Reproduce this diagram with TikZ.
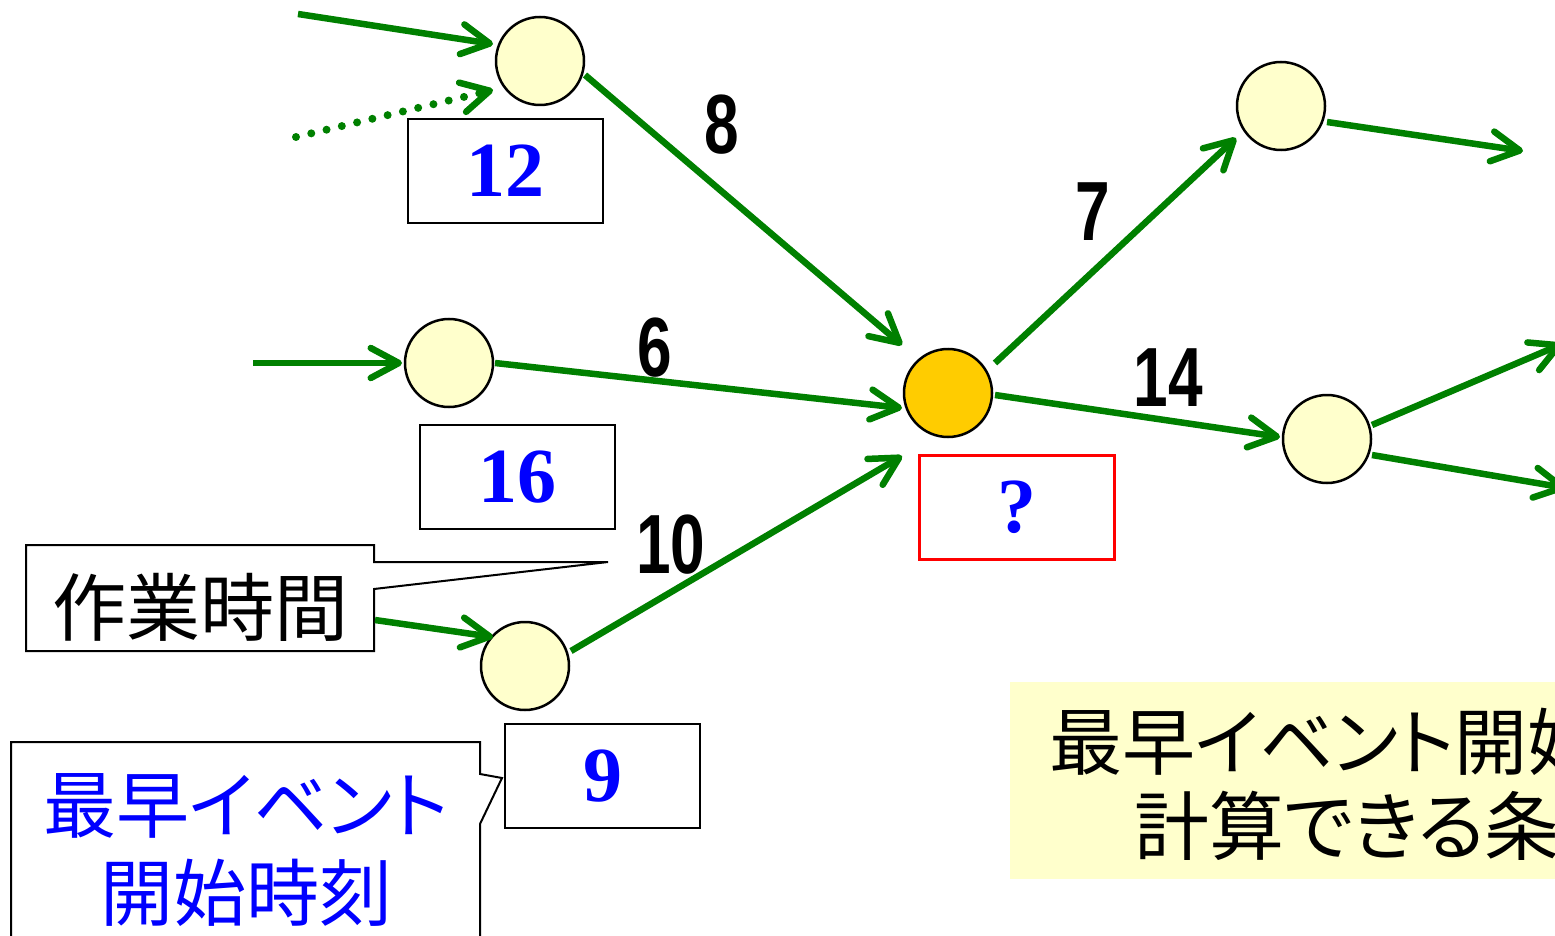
\documentclass[tikz,border=0pt]{standalone}
\usepackage{graphicx}
\usepackage{fontspec}
\setmainfont{Liberation Serif}
\newfontfamily\lsans{Liberation Sans}
\newfontfamily\cjk{Noto Sans CJK JP}
\newfontfamily\cjkp[RawFeature=+palt]{Noto Sans CJK JP}
\usetikzlibrary{arrows.meta,calc}
\definecolor{evgreen}{RGB}{0,128,0}
\definecolor{evyellow}{RGB}{255,255,204}
\definecolor{evorange}{RGB}{255,204,0}
\newcommand{\durtxt}[1]{\scalebox{0.74}[1]{#1}}
\begin{document}
\begin{tikzpicture}[x=1pt,y=-1pt,
  ev/.style={circle,draw=black,line width=2.5pt,fill=evyellow,minimum size=88pt,inner sep=0pt},
  arr/.style={draw=evgreen,line width=6.5pt,-{Straight Barb[length=28pt,width=30pt,round]}},
  dotarr/.style={draw=evgreen,line width=8pt,line cap=round,dash pattern=on 0pt off 15.7pt,
     -{Straight Barb[length=28pt,width=30pt,round,line width=6.5pt]}},
  valbox/.style={draw=black,line width=2.5pt,fill=white,minimum width=195pt,minimum height=104pt,
     inner sep=0pt,font=\fontsize{78}{78}\selectfont\bfseries,text=blue},
  dur/.style={inner sep=0pt,font=\lsans\fontsize{84}{84}\selectfont\bfseries},
  callout/.style={draw=black,line width=2pt,fill=white},
  cjktext/.style={inner sep=0pt,font=\cjkp\fontsize{#1}{#1}\selectfont},
]
\useasboundingbox (0,0) rectangle (1555,936);
\clip (0,0) rectangle (1555,936);

% condition box (bottom right)
\node[fill=evyellow,minimum width=560pt,minimum height=197pt,inner sep=0pt,anchor=north west] (cond) at (1010,682) {};
\node[cjktext=73,anchor=west] (cond1) at (1049,742) {最早イベント開始};
\node[cjktext=75,anchor=west] (cond2) at (1134,826) {計算できる条件};

% callouts
\coordinate (wtip) at (608,562);
\draw[callout] (26,545) -- (374,545) -- (374,562) -- (wtip) -- (374,589) -- (374,651) -- (26,651) -- cycle;
\node[cjktext=74] (wt) at (200,607) {作業時間};

\coordinate (etip) at (502,778);
\draw[callout] (11,960) -- (11,742) -- (480,742) -- (480,774) -- (etip) -- (480,824) -- (480,960);
\node[text=blue,align=center,inner sep=0pt,font=\cjkp\fontsize{73}{88}\selectfont] (et) at (246,850) {最早イベント\\開始時刻};

% events
\node[ev] (A) at (540,61) {};
\node[ev] (B) at (449,363) {};
\node[ev] (C) at (525,666) {};
\node[ev,fill=evorange] (D) at (948,393) {};
\node[ev] (E) at (1281,106) {};
\node[ev] (F) at (1327,439) {};

% value boxes
\node[valbox] (vA) at (505.5,171) {\raisebox{-3pt}{12}};
\node[valbox] (vB) at (517.5,477) {\raisebox{-3pt}{16}};
\node[valbox] (vC) at (602.5,776) {\raisebox{-3pt}{9}};
\node[valbox,draw=red,line width=3pt] (vD) at (1016.5,507) {\raisebox{-3pt}{?}};

% free ends
\coordinate (a1) at (298,14);
\coordinate (a2) at (296,137);
\coordinate (b1) at (253,363);
\coordinate (c1) at (375,620);
\coordinate (e1) at (1523,151);
\coordinate (f1) at (1562,344);
\coordinate (f2) at (1566,488);

% connectors
\draw[arr] (a1) -- ($(A)+(-47,-17)$);
\draw[dotarr] (a2) -- ($(A)+(-47,29)$);
\draw[arr] ($(A)+(45,14)$) -- ($(D)+(-46,-48)$);
\draw[arr] (b1) -- ($(B)+(-47,0)$);
\draw[arr] ($(B)+(46,0)$) -- ($(D)+(-46,15)$);
\draw[arr] (c1) -- ($(C)+(-32,-29)$);
\draw[arr] ($(C)+(46,-15)$) -- ($(D)+(-46,63)$);
\draw[arr] ($(D)+(47,-30)$) -- ($(E)+(-45,32)$);
\draw[arr] ($(E)+(46,16)$) -- (e1);
\draw[arr] ($(D)+(47,2)$) -- ($(F)+(-47,-2)$);
\draw[arr] ($(F)+(45,-14)$) -- (f1);
\draw[arr] ($(F)+(45,16)$) -- (f2);

% durations
\node[dur] (l8) at (722,125) {\durtxt{8}};
\node[dur] (l6) at (655,348) {\durtxt{6}};
\node[dur] (l7) at (1093,212) {\durtxt{7}};
\node[dur] (l14) at (1168,378) {\durtxt{14}};
\node[dur] (l10) at (671,545) {\durtxt{10}};
\end{tikzpicture}
\end{document}
